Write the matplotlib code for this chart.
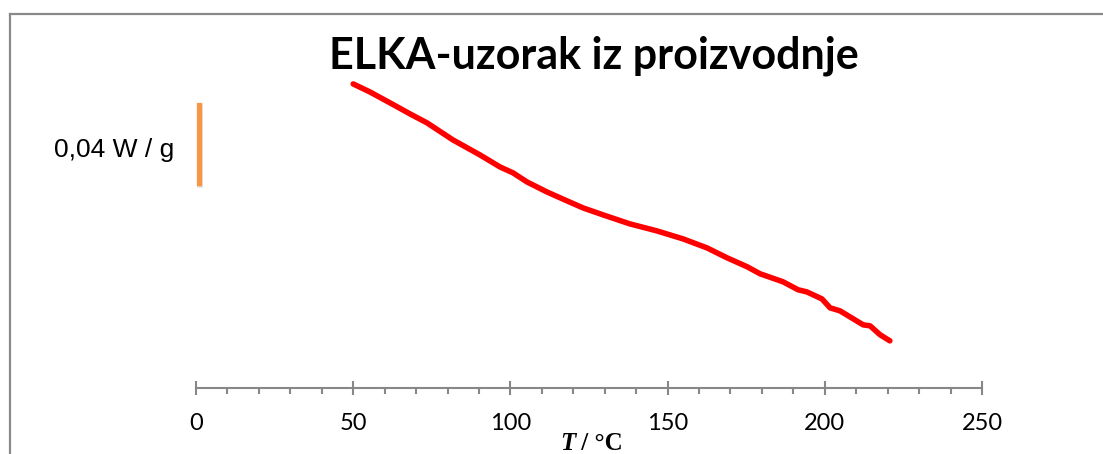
import numpy as np
import matplotlib
matplotlib.use("Agg")
from matplotlib import pyplot as plt
from matplotlib.lines import Line2D
from matplotlib.ticker import MultipleLocator

# DSC curve (T in degC, heat flow in W/g, arbitrary offset)
temperature = [50.0, 55.3, 61.7, 68.1, 73.5, 81.7, 90.3, 96.7, 100.8, 105.3,
               111.6, 118.0, 123.1, 129.5, 138.0, 146.6, 154.9, 162.5, 168.9,
               175.3, 179.4, 186.7, 191.5, 194.3, 199.1, 201.7, 204.8, 208.0,
               212.2, 214.4, 217.6, 220.7]
heat_flow = [0.0, -0.0041, -0.0097, -0.0154, -0.0200, -0.0287, -0.0364,
             -0.0426, -0.0456, -0.0503, -0.0554, -0.0600, -0.0636, -0.0672,
             -0.0718, -0.0754, -0.0795, -0.0841, -0.0892, -0.0938, -0.0974,
             -0.1015, -0.1056, -0.1067, -0.1103, -0.1149, -0.1164, -0.1195,
             -0.1236, -0.1241, -0.1287, -0.1318]

scale_bar_x = 1.0
scale_bar_bottom = -0.0508
scale_bar_size = 0.04
scale_bar_label = "0,04 W / g"

x_ticks = [0, 50, 100, 150, 200, 250]
title = "ELKA-uzorak iz proizvodnje"

W, H = 1103, 454
fig = plt.figure(figsize=(W / 100, H / 100), dpi=100)

# axes placed in pixel terms: T=0 at x=196, T=250 at x=982, axis line at y=388
ax = fig.add_axes([196 / W, (H - 388) / H, 786 / W, (388 - 20) / H])
ax.set_xlim(0, 250)
ax.set_ylim(-0.156, 0.0328)

ax.plot(temperature, heat_flow, color="#ff0000", lw=4,
        solid_capstyle="round", solid_joinstyle="round", zorder=3)

# scale bar with a soft shadow
ax.plot([scale_bar_x + 0.4, scale_bar_x + 0.4],
        [scale_bar_bottom - 0.0012, scale_bar_bottom + scale_bar_size - 0.0012],
        color="#c8c8c8", lw=4, alpha=0.6, clip_on=False, zorder=2)
ax.plot([scale_bar_x, scale_bar_x],
        [scale_bar_bottom, scale_bar_bottom + scale_bar_size],
        color="#f79646", lw=3.8, clip_on=False, zorder=3)
ax.text(-7.0, -0.0374, scale_bar_label, ha="right", va="baseline",
        fontsize=19, family="Liberation Sans", color="#000000")

for side in ("left", "right", "top"):
    ax.spines[side].set_visible(False)
ax.spines["bottom"].set_color("#878787")
ax.spines["bottom"].set_linewidth(1.5)

ax.set_yticks([])
ax.set_xticks(x_ticks)
ax.set_xticklabels([str(t) for t in x_ticks], family="Lato", fontsize=17)
ax.xaxis.set_minor_locator(MultipleLocator(10))
ax.tick_params(axis="x", which="major", direction="inout", length=10,
               width=1.5, color="#878787", pad=13)
ax.tick_params(axis="x", which="minor", direction="out", length=4,
               width=1.5, color="#878787")

# axis title "T / °C"
fig.text(575 / W, (H - 443) / H, "T", fontsize=18, ha="right",
         va="center", family="Liberation Serif", style="italic",
         weight="bold")
fig.text(575 / W, (H - 443) / H, " / °C", fontsize=18, ha="left", va="center",
         family="Liberation Serif", weight="bold")

fig.text(594 / W, (H - 68) / H, title, ha="center", va="baseline",
         fontsize=31, family="Lato", weight="bold")

# outer frame (only top and left edges are visible in the crop)
fig.add_artist(Line2D([10 / W, 10 / W], [0, (H - 14) / H],
                      transform=fig.transFigure, color="#898989", lw=1.6))
fig.add_artist(Line2D([10 / W, 1], [(H - 14) / H, (H - 14) / H],
                      transform=fig.transFigure, color="#898989", lw=1.6))

fig.savefig("out.png", dpi=100)
plt.close(fig)
